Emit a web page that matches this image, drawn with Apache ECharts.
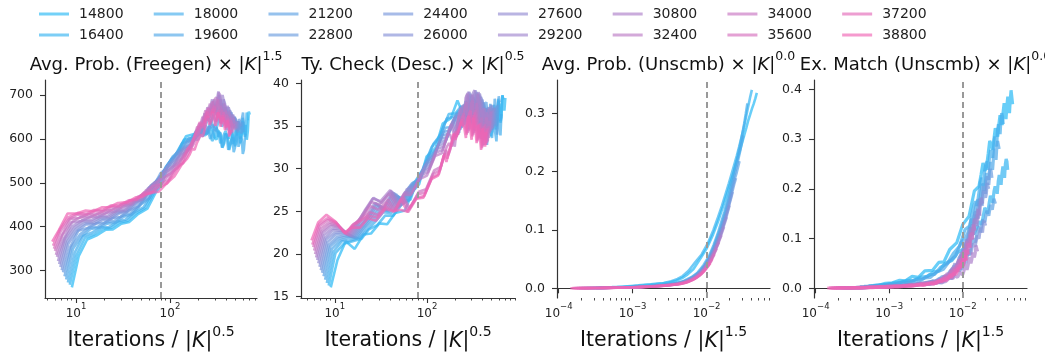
<!DOCTYPE html>
<html><head><meta charset="utf-8">
<script src="https://cdn.jsdelivr.net/npm/echarts@6/dist/echarts.min.js"></script>
<style>html,body{margin:0;padding:0;background:#fff}#c{width:1045px;height:354px}</style>
</head><body><div id="c"></div>
<script>
// ---------------- data ----------------
const sizes = [14800,16400,18000,19600,21200,22800,24400,26000,27600,29200,30800,32400,34000,35600,37200,38800];
// iteration steps at which each run was sampled
const iterations = [1100,1300,1600,2000,2500,3000,3700,4500,5500,7000,8500,10000,12000,15000,18000,22000,26000,30000,34000,38000,42000,46000,50000,54000,58000,62000,66000,70000,74000,78000,82000,86000];
const iterationsFine = [1100,1300,1600,2000,2500,3000,3700,4500,5500,7000,8500,10000,12000,15000,18000,22000,26000,30000,32000,34000,36000,38000,40000,42000,44000,46000,48000,50000,52000,54000,56000,58000,60000,62000,64000,66000,68000,70000,72000,74000,76000,78000,80000,82000,84000,86000];
const xExponent = [0.5, 0.5, 1.5, 1.5];

const freegenProb = [
[262,333,371,380,393,394,407,411,428,441,476,498,547,571,606,611,630,612,628,622,605,598,618,611,580,590,612,605,575,588,615,602,583,592,622,614,590,600,640,626,610,632,598,618,662,655],
[268,336,375,383,396,397,410,413,430,443,474,499,541,565,598,603,624,608,612,620,595,603,625,616,590,598,610,618,606,600,632,622,588,598,620,608,635,626,600,610,648,636,605,615,660,642],
[273,341,379,387,399,399,412,416,432,444,472,497,535,560,590,598,618,606,615,621,600,609,630,624,605,615,580,590,612,606,575,585,596,604,570,580,618,610,582,592,605,598,566,575,600,612],
[280,350,378,395,398,407,410,423,428,452,465,502,523,560,575,600,603,615,628,610,618,626,632,618,625,640,650,628,635,645,620,630,640,628,630,642,648,625,618,640,635,622,630,648,660,615],
[287,354,382,398,400,410,413,425,430,451,466,500,520,554,568,593,597,612,622,611,620,630,640,626,635,648,660,636,642,655,665,640,632,650,645,632,625,648,648,630,618,640,642,625,612,638],
[296,352,391,397,408,408,420,422,437,446,472,490,522,540,569,580,600,598,610,621,630,622,628,642,655,640,645,660,668,648,650,662,672,645,640,658,662,640,628,650,648,632,615,645,640,628],
[301,362,390,405,406,415,417,430,434,453,465,495,510,542,555,580,587,605,622,612,625,634,648,636,645,660,672,650,658,670,680,652,640,665,668,648,645,660,652,638,625,646,645,630,620,635],
[308,366,394,408,409,418,420,432,436,455,464,493,506,536,548,574,582,602,620,611,628,636,652,640,648,665,680,655,665,678,690,660,650,672,675,652,648,665,660,640,630,650,648,632,625,640],
[315,370,398,412,412,421,422,434,437,456,463,490,502,529,540,567,577,598,618,610,625,635,655,642,650,668,685,660,668,682,700,662,655,690,680,655,650,672,662,645,635,655,648,630,622,640],
[322,374,402,415,415,424,425,436,439,457,462,488,497,523,533,561,572,595,615,608,622,636,658,642,652,670,690,662,670,688,708,665,660,700,685,658,650,675,665,642,630,655,650,632,620,640],
[331,372,410,413,423,421,432,434,446,451,470,479,500,510,534,546,575,583,602,616,635,626,640,652,672,660,660,678,690,665,678,705,700,660,655,680,675,650,645,662,658,640,632,648,640,625],
[336,382,410,422,421,429,430,441,443,458,463,483,489,511,520,548,562,588,600,606,618,632,650,640,648,666,680,660,672,690,695,668,650,675,675,655,640,664,660,642,632,650,648,630,615,635],
[345,380,418,420,429,427,437,438,450,453,469,474,492,498,519,534,564,577,590,611,628,622,635,648,665,652,658,672,685,660,665,680,690,655,645,666,670,648,635,655,650,636,625,642,635,622],
[350,390,418,428,427,435,435,445,446,459,463,478,481,498,506,535,545,570,580,590,600,612,630,625,640,658,670,655,652,668,675,660,648,665,668,650,640,660,652,640,628,646,642,630,612,622],
[357,394,422,431,430,438,438,448,448,460,462,475,476,491,499,528,546,579,585,597,610,624,638,630,635,652,662,648,645,662,668,652,640,660,662,645,635,654,650,638,625,642,640,628,608,620],
[366,393,430,430,437,435,444,445,454,456,467,468,477,480,498,515,540,555,565,578,575,590,600,610,605,620,645,652,632,640,662,658,630,642,660,652,628,638,650,646,620,630,642,636,605,620]
];

const tyCheck = [
[16.1,19.3,21.5,20.6,22.3,22.4,23.6,23.5,24.8,25.1,27.3,28.2,31.4,32.4,35.3,35.9,38.0,36.4,37.9,37.5,36.8,35.8,37.2,36.6,35.5,34.7,36.8,35.9,33.6,34.3,36.2,35.6,33.8,34.5,37.0,36.3,34.6,35.2,38.2,37.1,35.4,36.0,38.6,38.0,36.8,38.3],
[16.3,20.1,21.2,21.5,21.8,22.9,23.4,24.5,24.5,26.0,26.4,28.7,30.2,32.9,34.0,36.4,36.5,37.3,36.8,36.1,37.6,37.0,35.2,35.8,37.4,36.9,34.5,35.1,36.8,36.2,33.9,34.8,36.9,36.4,34.6,35.2,37.5,36.8,35.0,35.7,38.0,37.5,35.6,36.4,38.6,38.1],
[16.6,20.3,21.5,21.6,21.9,22.8,23.8,24.9,24.8,26.3,26.3,28.5,29.9,32.5,33.6,35.9,36.1,36.8,36.4,35.9,35.5,36.8,37.2,36.1,36.3,37.0,34.8,34.0,33.5,35.2,34.4,33.6,32.8,35.2,35.0,34.2,33.6,35.3,34.9,34.1,33.2,35.9,35.6,34.8,33.9,36.4],
[17.0,20.6,21.6,21.9,21.9,23.0,24.0,25.2,25.0,26.7,26.1,28.4,28.9,31.4,32.4,34.8,34.9,36.5,36.0,35.6,35.2,36.7,37.4,36.4,36.0,37.3,38.0,35.9,35.2,37.0,37.8,35.8,36.2,37.1,35.0,36.1,37.6,36.8,34.8,35.6,38.2,37.2,35.4,36.2,38.5,37.8],
[17.4,20.9,21.8,22.1,21.9,23.1,24.2,25.4,25.1,26.8,26.0,28.3,28.6,31.1,32.0,34.3,34.5,36.2,36.6,35.4,35.0,36.6,37.4,36.6,36.0,37.5,38.2,36.1,35.5,37.3,38.0,36.0,35.6,37.5,37.8,36.4,35.4,36.8,36.9,35.5,34.6,37.1,37.2,36.0,34.0,37.5],
[17.8,21.1,22.0,22.2,22.0,23.1,24.3,25.6,25.2,27.0,25.9,28.1,28.4,30.8,31.6,33.9,34.1,35.9,36.4,35.2,34.8,36.5,37.5,36.7,36.2,37.8,38.4,36.3,35.6,37.6,38.6,36.2,35.4,37.8,38.0,36.5,35.2,36.9,37.0,35.6,34.8,37.1,37.2,36.0,35.0,37.4],
[18.1,21.4,22.3,22.4,22.0,23.2,24.4,25.8,25.3,27.1,25.8,27.9,28.1,30.5,31.2,33.5,33.7,35.6,36.2,35.0,34.6,36.4,37.6,36.8,36.4,38.0,38.6,36.4,35.8,37.9,38.8,36.3,35.5,38.1,38.2,36.6,35.2,36.9,37.2,35.7,34.9,37.0,37.4,36.1,35.2,37.2],
[18.5,21.7,22.5,22.6,22.1,23.2,24.3,25.9,25.4,27.2,25.7,27.7,27.9,30.2,30.8,33.1,33.3,35.3,36.0,34.8,34.2,36.3,37.5,36.8,36.2,38.1,38.8,36.5,35.6,38.2,39.0,36.4,35.8,38.4,38.0,36.7,35.0,37.0,37.2,35.6,34.6,36.9,37.5,36.0,34.8,37.1],
[18.9,21.9,22.8,22.7,22.1,23.3,24.4,26.0,25.2,27.3,25.6,27.6,27.6,29.8,30.4,32.7,33.0,35.0,35.6,34.6,34.0,36.1,37.4,36.9,36.0,38.3,39.0,36.6,35.8,38.6,39.2,36.5,35.6,38.8,38.2,36.8,35.2,37.1,37.0,35.5,34.4,36.9,37.2,35.8,34.6,36.9],
[19.3,22.2,23.0,22.9,22.2,23.3,25.1,26.6,26.0,27.4,25.5,27.3,27.4,29.5,30.0,32.3,32.6,34.7,35.4,34.4,33.8,36.0,37.2,37.0,36.2,38.5,39.0,36.7,35.6,38.9,39.2,36.6,35.4,39.0,38.0,36.9,35.0,37.1,36.8,35.4,34.2,36.7,37.0,35.8,34.4,36.8],
[19.6,22.5,23.3,23.1,22.2,23.4,25.1,26.5,26.2,27.5,25.4,27.2,27.1,29.2,29.6,31.9,32.2,34.4,35.2,34.2,33.6,35.8,37.0,36.9,35.8,38.3,38.8,36.7,35.4,38.7,38.9,36.5,35.2,38.8,37.8,36.8,34.8,36.9,36.6,35.3,34.0,36.6,36.8,35.6,34.2,36.7],
[20.0,22.7,23.5,23.2,22.3,23.4,24.8,26.1,25.8,27.1,25.3,27.0,26.9,28.8,29.2,31.5,31.8,34.0,34.0,33.2,32.6,34.9,36.2,35.8,35.0,37.2,37.8,35.8,34.6,37.6,38.0,35.6,34.4,37.7,36.8,35.8,34.0,36.0,35.8,34.4,33.4,35.7,36.0,34.7,33.6,35.6],
[20.4,23.0,23.7,23.4,22.3,23.5,24.4,25.6,25.2,26.4,25.2,26.8,25.4,27.3,27.6,29.8,30.2,32.5,33.0,32.6,33.4,34.4,34.0,35.2,35.6,36.5,36.6,35.3,34.4,36.8,37.0,35.1,34.2,36.9,36.2,35.3,33.6,35.4,35.0,33.9,32.8,35.2,35.2,34.1,33.2,35.0],
[20.8,23.3,24.0,23.5,22.4,23.5,24.1,24.9,24.6,26.0,25.1,26.6,25.2,27.0,27.2,29.4,29.8,32.2,31.6,32.4,33.6,34.3,34.0,34.8,35.4,36.2,36.4,35.2,34.2,36.5,36.8,35.0,34.0,36.6,36.0,35.1,33.4,35.3,34.8,33.8,32.6,35.0,35.0,34.0,33.0,34.8],
[21.1,23.5,24.2,23.7,22.4,23.4,23.9,24.5,24.3,25.6,25.0,26.4,24.9,26.6,26.8,29.0,29.4,31.8,31.2,32.1,33.2,34.1,33.8,34.5,35.0,35.8,36.0,35.0,34.0,36.2,36.4,34.9,33.8,36.3,35.8,34.8,33.2,35.2,34.6,33.7,32.4,34.8,34.8,33.8,32.8,34.6],
[21.6,23.7,24.6,23.8,22.5,23.1,23.1,24.2,23.9,25.3,25.0,25.2,25.0,26.5,26.6,28.8,29.2,31.6,30.8,32.1,32.8,34.1,33.4,34.0,34.6,35.5,35.6,34.8,33.6,35.9,36.2,34.7,33.4,36.0,35.4,34.6,33.0,35.1,34.4,33.6,32.2,34.7,34.6,33.7,32.6,34.3]
];

const unscmbProb = [
[0.002,0.002,0.003,0.004,0.005,0.006,0.007,0.008,0.010,0.013,0.018,0.024,0.033,0.052,0.068,0.092,0.116,0.140,0.162,0.182,0.200,0.218,0.233,0.248,0.262,0.275,0.288,0.298,0.308,0.316,0.325,0.335],
[0.002,0.002,0.003,0.004,0.005,0.006,0.007,0.008,0.009,0.012,0.016,0.021,0.030,0.046,0.058,0.078,0.100,0.122,0.142,0.162,0.180,0.197,0.213,0.228,0.243,0.258,0.272,0.287,0.302,0.316,0.329,0.340],
[0.001,0.001,0.0015,0.002,0.0023,0.003,0.0035,0.0043,0.0053,0.007,0.0083,0.010,0.013,0.019,0.026,0.040,0.055,0.074,0.093,0.113,0.131,0.151,0.169,0.187,0.205,0.220,0.236,0.251,0.267,0.283,0.300,0.317],
[0.001,0.001,0.0013,0.0017,0.002,0.0024,0.003,0.0036,0.0044,0.0055,0.0068,0.008,0.0096,0.014,0.020,0.029,0.040,0.054,0.070,0.087,0.102,0.119,0.134,0.151,0.166,0.183,0.196,0.209,0.222,0.235,0.249,0.262],
[0.001,0.001,0.001,0.0014,0.0017,0.002,0.0025,0.003,0.0038,0.0047,0.0058,0.0068,0.0082,0.011,0.015,0.0215,0.030,0.041,0.053,0.066,0.080,0.093,0.107,0.121,0.134,0.148,0.162,0.175,0.187,0.196,0.207,0.218],
[0.0006,0.0008,0.001,0.0012,0.0015,0.0018,0.0022,0.0027,0.0033,0.0042,0.005,0.0059,0.0071,0.0093,0.0121,0.018,0.024,0.032,0.042,0.051,0.063,0.075,0.087,0.099,0.111,0.122,0.135,0.146,0.158,0.169,0.180,0.189],
[0.0006,0.0007,0.0008,0.001,0.0013,0.0016,0.0019,0.0024,0.0029,0.0037,0.0045,0.0052,0.0063,0.0079,0.0103,0.0143,0.019,0.025,0.032,0.042,0.050,0.061,0.071,0.082,0.092,0.103,0.113,0.124,0.134,0.145,0.155,0.165],
[0.0005,0.0006,0.0008,0.001,0.0012,0.0014,0.0018,0.0021,0.0025,0.0032,0.004,0.0047,0.0056,0.007,0.0087,0.012,0.0157,0.0206,0.026,0.033,0.041,0.049,0.058,0.068,0.076,0.086,0.096,0.105,0.115,0.123,0.133,0.142],
[0.0005,0.0006,0.0007,0.0009,0.0011,0.0012,0.0015,0.0019,0.0023,0.0029,0.0036,0.0042,0.005,0.0062,0.0075,0.0099,0.0129,0.017,0.0216,0.0274,0.033,0.040,0.047,0.056,0.063,0.072,0.081,0.089,0.097,0.106,0.114,0.122],
[0.0004,0.0005,0.0006,0.0008,0.0009,0.0011,0.0014,0.0017,0.0021,0.0026,0.0032,0.0038,0.0045,0.0056,0.0068,0.0086,0.0109,0.0141,0.0179,0.0223,0.027,0.0324,0.0395,0.045,0.053,0.060,0.068,0.075,0.083,0.090,0.098,0.105],
[0.0004,0.0005,0.0006,0.0006,0.0008,0.001,0.0013,0.0016,0.0018,0.0024,0.0029,0.0034,0.004,0.0051,0.0062,0.0075,0.0096,0.0122,0.0154,0.0186,0.0225,0.0271,0.0322,0.0385,0.0437,0.0506,0.057,0.0635,0.0708,0.0773,0.0846,0.091],
[0.0004,0.0004,0.0005,0.0006,0.0008,0.0009,0.0012,0.0014,0.0017,0.0022,0.0026,0.0031,0.0037,0.0046,0.0056,0.0068,0.0084,0.0104,0.0128,0.0158,0.0189,0.0225,0.0267,0.0315,0.0374,0.0423,0.0477,0.054,0.0603,0.0666,0.0729,0.0788],
[0.0004,0.0004,0.0004,0.0005,0.0007,0.0009,0.0011,0.0012,0.0016,0.0019,0.0024,0.0028,0.0033,0.0042,0.005,0.0062,0.0075,0.009,0.011,0.0135,0.0163,0.0192,0.0227,0.0268,0.0311,0.0361,0.0405,0.0458,0.051,0.0563,0.0625,0.0678],
[0.0003,0.0003,0.0004,0.0005,0.0006,0.0008,0.0009,0.0011,0.0014,0.0018,0.0022,0.0026,0.0031,0.0039,0.0046,0.0056,0.0066,0.008,0.0096,0.0117,0.014,0.0165,0.0195,0.0226,0.0262,0.0301,0.0348,0.0387,0.043,0.0482,0.0533,0.0585],
[0.0003,0.0003,0.0003,0.0005,0.0006,0.0007,0.0008,0.0011,0.0013,0.0017,0.002,0.0024,0.0028,0.0035,0.0042,0.0051,0.0061,0.0071,0.0085,0.0101,0.012,0.0141,0.0166,0.0193,0.0223,0.0255,0.0291,0.0334,0.037,0.0412,0.0454,0.0504],
[0.0002,0.0002,0.0003,0.0004,0.0006,0.0007,0.0008,0.001,0.0011,0.0015,0.0018,0.0021,0.0025,0.0032,0.0039,0.0048,0.0056,0.0065,0.0075,0.0088,0.0103,0.0124,0.0145,0.0168,0.0194,0.0221,0.025,0.0282,0.0317,0.0357,0.039,0.043]
];

const unscmbMatch = [
[.006,.006,.010,.011,.016,.015,.024,.022,.035,.036,.052,.053,.078,.092,.128,.145,.196,.205,.228,.252,.236,.244,.27,.296,.29,.278,.30,.322,.318,.305,.33,.348,.342,.328,.355,.372,.362,.34,.368,.385,.372,.352,.38,.398,.40,.37],
[.005,.005,.007,.008,.011,.011,.016,.015,.022,.024,.033,.035,.05,.056,.072,.08,.105,.11,.118,.128,.135,.128,.145,.162,.158,.15,.17,.186,.18,.172,.195,.205,.2,.19,.215,.228,.222,.208,.232,.245,.238,.222,.25,.26,.255,.238],
[.004,.004,.006,.007,.009,.009,.013,.012,.018,.019,.027,.028,.042,.05,.07,.085,.118,.125,.145,.164,.175,.166,.19,.214,.222,.206,.235,.25,.255,.238,.265,.278,.282,.262,.29,.305,.305,.285,.318,.33,.328,.31,.338,.352,.345,.33],
[.003,.003,.005,.005,.007,.007,.01,.009,.014,.015,.021,.022,.032,.038,.054,.065,.092,.102,.11,.122,.14,.128,.15,.168,.178,.165,.188,.205,.21,.196,.215,.232,.236,.218,.242,.254,.258,.238,.262,.275,.28,.258,.285,.296,.3,.28],
[.002,.001,.003,.002,.004,.003,.006,.004,.008,.007,.011,.009,.015,.012,.023,.021,.040,.039,.05,.068,.075,.066,.082,.095,.1,.092,.108,.12,.125,.112,.126,.138,.142,.133,.148,.156,.16,.146,.158,.168,.172,.158,.168,.18,.182,.17],
[.0016,.0012,.0024,.002,.0033,.0032,.005,.0044,.0062,.0066,.0098,.0088,.0132,.0136,.023,.0252,.044,.048,.058,.074,.085,.079,.095,.114,.122,.11,.128,.148,.155,.14,.16,.18,.178,.168,.19,.205,.2,.19,.21,.225,.22,.208,.228,.24,.235,.222],
[.0014,.0011,.0019,.0016,.003,.0027,.0042,.0038,.0054,.0057,.0086,.0076,.0118,.011,.019,.019,.036,.035,.046,.061,.066,.058,.075,.092,.098,.087,.105,.122,.128,.116,.132,.148,.152,.14,.158,.175,.178,.166,.182,.196,.2,.182,.19,.212,.215,.2],
[.0012,.0009,.0018,.0015,.0028,.0023,.004,.0036,.0058,.005,.0084,.0072,.0098,.0078,.012,.011,.021,.020,.026,.034,.04,.034,.043,.052,.058,.05,.062,.072,.078,.068,.08,.09,.094,.084,.096,.106,.108,.1,.115,.122,.124,.112,.128,.136,.138,.126],
[.0012,.0008,.0016,.0014,.0024,.0019,.0036,.0032,.0052,.0044,.0072,.0063,.0099,.0092,.0142,.0148,.025,.025,.03,.04,.05,.04,.05,.062,.072,.06,.075,.088,.098,.086,.1,.114,.122,.108,.125,.14,.142,.13,.148,.16,.162,.148,.17,.182,.18,.17],
[.0011,.0007,.0015,.0011,.0022,.0018,.0032,.0028,.0045,.0038,.006,.0055,.0087,.008,.0125,.0122,.0202,.0205,.025,.0335,.04,.032,.04,.05,.056,.047,.058,.07,.078,.066,.08,.095,.1,.088,.102,.118,.12,.108,.125,.14,.138,.125,.142,.158,.16,.145],
[.0012,.0008,.0014,.0013,.0021,.0017,.003,.0029,.0045,.0041,.0058,.0056,.0072,.0078,.0098,.0092,.0125,.0128,.0138,.0175,.021,.017,.02,.0255,.028,.022,.026,.032,.036,.027,.034,.043,.048,.037,.046,.057,.062,.05,.058,.072,.075,.062,.07,.086,.088,.074],
[.001,.0007,.0013,.001,.0019,.0015,.0028,.0024,.0041,.0036,.0055,.0047,.0076,.007,.0108,.0102,.0152,.0152,.018,.0245,.03,.0235,.028,.035,.042,.034,.04,.05,.058,.049,.056,.067,.074,.064,.075,.089,.094,.082,.094,.109,.112,.098,.11,.128,.13,.116],
[.001,.0007,.0012,.0009,.0018,.0013,.0025,.0021,.0036,.0032,.005,.0041,.0063,.0061,.0095,.0088,.0133,.0127,.015,.02,.025,.0195,.024,.0295,.035,.028,.034,.041,.046,.039,.045,.055,.06,.052,.06,.072,.078,.068,.076,.09,.094,.083,.092,.107,.112,.098],
[.0008,.0006,.001,.0008,.0015,.0011,.0022,.0019,.0031,.0029,.0042,.0035,.0057,.0052,.0083,.0077,.0116,.0105,.013,.0168,.02,.016,.019,.024,.028,.0225,.027,.033,.038,.0315,.036,.046,.05,.042,.048,.059,.064,.054,.062,.076,.08,.068,.078,.091,.094,.081],
[.0008,.0005,.001,.0006,.0014,.001,.0019,.0016,.0028,.0025,.0039,.0031,.0051,.0047,.0075,.0068,.0104,.0094,.011,.0142,.017,.0136,.016,.021,.024,.019,.023,.028,.032,.026,.03,.038,.042,.034,.04,.049,.053,.044,.05,.061,.066,.056,.064,.076,.08,.068],
[.0006,.0005,.0009,.0006,.0012,.0009,.0016,.0014,.0024,.0022,.0034,.0027,.0044,.0042,.0066,.0058,.0091,.0082,.0095,.012,.015,.0115,.013,.0175,.021,.016,.019,.0235,.028,.021,.025,.031,.035,.028,.033,.04,.044,.036,.041,.05,.055,.045,.052,.061,.066,.056]
];

const panelTitles = [
  ['Avg. Prob. (Freegen) \u00d7 |', 'K', '|', '1.5'],
  ['Ty. Check (Desc.) \u00d7 |', 'K', '|', '0.5'],
  ['Avg. Prob. (Unscmb) \u00d7 |', 'K', '|', '0.0'],
  ['Ex. Match (Unscmb) \u00d7 |', 'K', '|', '0.0']
];
const xNameExp = ['0.5', '0.5', '1.5', '1.5'];
const refLine = [80, 80, 0.0082, 0.0082];
const xMajorTicks = [[10,100],[10,100],[1e-4,1e-3,1e-2],[1e-4,1e-3,1e-2]];
const xMinorTicksA = [5,6,7,8,9,20,30,40,50,60,70,80,90,200,300,400,500,600,700,800,900];
const xMinorTicksB = [2e-4,3e-4,4e-4,5e-4,6e-4,7e-4,8e-4,9e-4,2e-3,3e-3,4e-3,5e-3,6e-3,7e-3,8e-3,9e-3,2e-2,3e-2,4e-2,5e-2,6e-2,7e-2];
const yTicks = [[300,400,500,600,700],[15,20,25,30,35,40],[0,0.1,0.2,0.3],[0,0.1,0.2,0.3,0.4]];
const xRange = [[4.68, 844],[4.3, 900],[9.5e-5, 0.072],[9.5e-5, 0.075]];
const yRange = [[237.8, 734],[14.85, 40.4],[-0.0166, 0.357],[-0.0195, 0.4187]];

// ---------------- layout / style ----------------
const grids = [
  {left: 45, top: 80, width: 212, height: 218},
  {left: 301, top: 80, width: 214, height: 218},
  {left: 557, top: 80, width: 213, height: 218},
  {left: 814, top: 80, width: 213, height: 218}
].map(g => Object.assign(g, {containLabel: false, outerBoundsMode: 'none'}));
const FONT = 'DejaVu Sans';
const AX = '#333';
const TXT = '#222';
const c0 = [40, 185, 245], c1 = [240, 100, 180];
const colors = sizes.map((_, i) => {
  const t = i / (sizes.length - 1);
  const c = c0.map((v, k) => Math.round(v + (c1[k] - v) * t));
  return 'rgb(' + c.join(',') + ')';
});
const lineWidths = [2.6, 2.6, 2.6, 3.2];

function supLabel(v) {
  const e = Math.round(Math.log10(v));
  const es = e < 0 ? '\u2212' + (-e) : String(e);
  return '{b|10}{s|' + es + '}';
}
const supRich = {
  b: {fontSize: 12, color: TXT, fontFamily: FONT, lineHeight: 18, verticalAlign: 'bottom'},
  s: {fontSize: 8.5, color: TXT, fontFamily: FONT, lineHeight: 18, verticalAlign: 'top'}
};
function richSet(big, small, col) {
  return {
    n: {fontSize: big, color: col, fontFamily: FONT, fontWeight: 'normal', lineHeight: big + 6, verticalAlign: 'bottom'},
    i: {fontSize: big, color: col, fontFamily: FONT, fontWeight: 'normal', fontStyle: 'italic', lineHeight: big + 6, verticalAlign: 'bottom'},
    s: {fontSize: small, color: col, fontFamily: FONT, fontWeight: 'normal', lineHeight: small, verticalAlign: 'top'}
  };
}

const xAxes = [], yAxes = [], titles = [], series = [];
grids.forEach((g, p) => {
  xAxes.push({
    type: 'log', logBase: 10, gridIndex: p, min: xRange[p][0], max: xRange[p][1],
    axisLine: {show: true, lineStyle: {color: AX, width: 1.2}},
    axisTick: {show: true, customValues: xMajorTicks[p], length: 5, lineStyle: {color: AX, width: 1.1}},
    axisLabel: {show: true, customValues: xMajorTicks[p], formatter: supLabel, margin: 4, rich: supRich},
    splitLine: {show: false},
    name: '{n|Iterations / |}{i|K}{n||}{s|' + xNameExp[p] + '}',
    nameLocation: 'middle', nameGap: 5,
    nameTextStyle: {rich: richSet(20.5, 14, '#111')}
  });
  yAxes.push({
    type: 'value', gridIndex: p, min: yRange[p][0], max: yRange[p][1],
    axisLine: {show: true, lineStyle: {color: AX, width: 1.2}},
    axisTick: {show: true, customValues: yTicks[p], length: 5, lineStyle: {color: AX, width: 1.1}},
    axisLabel: {show: true, customValues: yTicks[p], margin: 12, color: TXT, fontSize: 12.5, fontFamily: FONT,
      formatter: p < 2 ? (v => String(Math.round(v))) : (v => v.toFixed(1))},
    splitLine: {show: false}
  });
  const tt = panelTitles[p];
  titles.push({
    text: '{n|' + tt[0] + '}{i|' + tt[1] + '}{n|' + tt[2] + '}{s|' + tt[3] + '}',
    left: g.left + g.width / 2, top: 45, textAlign: 'center',
    textStyle: {fontWeight: 'normal', rich: richSet(18, 12.5, '#111')}
  });
});
// minor tick axes
grids.forEach((g, p) => {
  xAxes.push({
    type: 'log', logBase: 10, gridIndex: p, position: 'bottom', offset: 0,
    min: xRange[p][0], max: xRange[p][1],
    axisLine: {show: false},
    axisTick: {show: true, customValues: p < 2 ? xMinorTicksA : xMinorTicksB, length: 2.5, lineStyle: {color: AX, width: 0.9}},
    axisLabel: {show: false}, splitLine: {show: false}
  });
});

const panelsData = [freegenProb, tyCheck, unscmbProb, unscmbMatch];
const panelIters = [iterationsFine, iterationsFine, iterations, iterationsFine];
panelsData.forEach((vals, p) => {
  sizes.forEach((K, i) => {
    const d = Math.pow(K, xExponent[p]);
    series.push({
      name: String(K), type: 'line', xAxisIndex: p, yAxisIndex: p,
      data: panelIters[p].map((it, j) => [it / d, vals[i][j]]),
      showSymbol: false, symbol: 'none', silent: true,
      lineStyle: {color: colors[i], width: lineWidths[p], opacity: 0.7},
      itemStyle: {color: colors[i]},
      emphasis: {disabled: true}, z: 2
    });
  });
  series.push({
    type: 'line', xAxisIndex: p, yAxisIndex: p, data: [], silent: true, z: 5,
    markLine: {silent: true, symbol: ['none', 'none'], label: {show: false},
      lineStyle: {type: [6, 4], color: '#999', width: 2},
      data: [{xAxis: refLine[p]}]}
  });
});

const order1 = [0, 2, 4, 6, 8, 10, 12, 14], order2 = [1, 3, 5, 7, 9, 11, 13, 15];
function mkLegend(idx, top) {
  return {
    data: idx.map(i => String(sizes[i])), top: top, left: 34, orient: 'horizontal',
    icon: 'rect', itemWidth: 30, itemHeight: 3, itemGap: 30.2, selectedMode: false,
    itemStyle: {opacity: 0.65},
    textStyle: {fontSize: 14, color: TXT, fontFamily: FONT, padding: [0, 0, 0, 5]}
  };
}

const chart = echarts.init(document.getElementById('c'), null, {renderer: 'canvas'});
chart.setOption({
  animation: false,
  backgroundColor: '#fff',
  textStyle: {fontFamily: FONT},
  title: titles,
  legend: [mkLegend(order1, 2), mkLegend(order2, 23)],
  grid: grids,
  xAxis: xAxes,
  yAxis: yAxes,
  series: series
});
</script>
</body></html>
